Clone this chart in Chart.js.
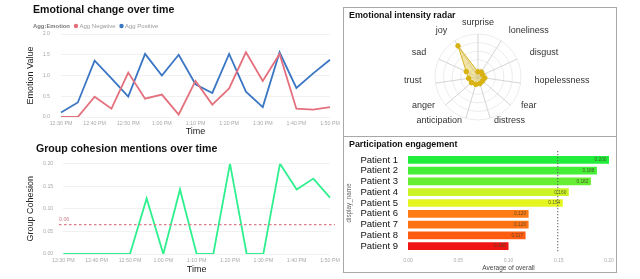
<!DOCTYPE html>
<html><head><meta charset="utf-8">
<script src="https://cdn.jsdelivr.net/npm/chart.js@4.4.0/dist/chart.umd.min.js"></script>
<style>
html,body{margin:0;padding:0;background:#fff;width:640px;height:279px;overflow:hidden;font-family:"Liberation Sans",Arial,sans-serif;}
canvas{position:absolute;}
.t{position:absolute;font-weight:bold;color:#111;white-space:nowrap;line-height:1;}
.panel{position:absolute;border:1px solid #a8a8a8;box-sizing:border-box;}
</style></head><body>
<div class="panel" style="left:343px;top:7px;width:274px;height:130px"></div>
<div class="panel" style="left:343px;top:136px;width:274px;height:137px"></div>
<canvas id="emo" width="340" height="140" style="left:0;top:0"></canvas>
<canvas id="coh" width="340" height="144" style="left:0;top:135px"></canvas>
<canvas id="rad" width="272" height="128" style="left:344px;top:8px"></canvas>
<canvas id="bar" width="280" height="144" style="left:340px;top:135px"></canvas>
<div class="t" style="left:33px;top:4.3px;font-size:10.6px">Emotional change over time</div>
<div class="t" style="left:36px;top:142.5px;font-size:10.6px">Group cohesion mentions over time</div>
<div class="t" style="left:349px;top:10.6px;font-size:8.9px">Emotional intensity radar</div>
<div class="t" style="left:349px;top:139.6px;font-size:8.9px">Participation engagement</div>
<script>
const FONT = '"Liberation Sans", Arial, sans-serif';
Chart.defaults.font.family = FONT;

// ---- data ----
const times = ['12:30 PM','12:35 PM','12:40 PM','12:45 PM','12:50 PM','12:55 PM','1:00 PM','1:05 PM','1:10 PM','1:15 PM','1:20 PM','1:25 PM','1:30 PM','1:35 PM','1:40 PM','1:45 PM','1:50 PM'];
const aggNegative = [0, 0, 0.49, 0.2, 1.07, 0.44, 0.54, 0.06, 0.87, 0.3, 0.69, 1.56, 0.87, 1.52, 0.2, 0.18, 0.24];
const aggPositive = [0.11, 0.35, 1.36, 0.93, 0.49, 1.52, 1.0, 1.5, 0.79, 0.58, 1.52, 0.61, 0.24, 1.56, 0.7, 1.05, 1.38];
const legendTitle = 'Agg:Emotion';
const cohesion = [0, 0, 0, 0, 0, 0.123, 0, 0.143, 0, 0, 0.2, 0, 0, 0.2, 0.143, 0.167, 0.125];
const cohesionThreshold = 0.065;
const cohesionThresholdLabel = '0.06';
const emotions = ['surprise','loneliness','disgust','hopelessness','fear','distress','anticipation','anger','trust','sad','joy'];
const intensity = [0.12, 0.14, 0.12, 0.16, 0.14, 0.16, 0.18, 0.2, 0.22, 0.3, 0.86];
const patients = ['Patient 1','Patient 2','Patient 3','Patient 4','Patient 5','Patient 6','Patient 7','Patient 8','Patient 9'];
const overall = [0.200, 0.188, 0.182, 0.160, 0.154, 0.120, 0.120, 0.117, 0.100];
const barColors = ['#20ee3a','#44ef36','#66ee33','#ccf424','#e4f520','#ff7b15','#ff7214','#ff5c12','#ee1512'];

function noPad(s){ s.paddingLeft = 0; s.paddingRight = 0; s.paddingTop = 0; s.paddingBottom = 0; }

// ---- emotional change ----
const emoLegend = {
  id: 'emoLegend',
  afterDraw(chart) {
    const ctx = chart.ctx; ctx.save();
    ctx.textBaseline = 'middle';
    ctx.font = 'bold 5.9px ' + FONT;
    ctx.fillStyle = '#777';
    ctx.fillText(legendTitle, 33, 26);
    let x = 33 + ctx.measureText(legendTitle).width + 4;
    ctx.font = '6px ' + FONT;
    chart.data.datasets.forEach(ds => {
      ctx.fillStyle = ds.borderColor;
      ctx.beginPath(); ctx.arc(x + 2, 26, 2.2, 0, Math.PI * 2); ctx.fill();
      x += 5.5;
      ctx.fillStyle = '#9a9a9a';
      ctx.fillText(ds.label, x, 26);
      x += ctx.measureText(ds.label).width + 4;
    });
    ctx.restore();
  }
};

const smallTick = {size: 5.3};
new Chart(document.getElementById('emo'), {
  type: 'line',
  data: {labels: times, datasets: [
    {label: 'Agg Negative', data: aggNegative, borderColor: '#e5707d', borderWidth: 1.8, pointRadius: 0, tension: 0},
    {label: 'Agg Positive', data: aggPositive, borderColor: '#3a76c4', borderWidth: 1.8, pointRadius: 0, tension: 0}
  ]},
  options: {
    responsive: false, animation: false, devicePixelRatio: 1,
    layout: {padding: {left: 0, right: 10, top: 34, bottom: 0}},
    plugins: {legend: {display: false}, tooltip: {enabled: false}},
    scales: {
      x: {type: 'category', offset: false, grid: {display: false, drawTicks: false}, border: {display: false},
        ticks: {autoSkip: false, maxRotation: 0, padding: 3, font: smallTick, color: '#aaa',
          callback: (v, i) => i % 2 === 0 ? times[i] : ''},
        title: {display: true, text: 'Time', font: {size: 9}, color: '#222', padding: {top: 0, bottom: 2.9}},
        afterFit: s => { s.height = 23; noPad(s); }},
      y: {min: 0, max: 2, grid: {color: '#f1f1f1', drawTicks: false}, border: {display: false},
        ticks: {stepSize: 0.5, padding: 11, font: smallTick, color: '#aaa', callback: v => Number(v).toFixed(1)},
        title: {display: true, text: 'Emotion Value', font: {size: 9}, color: '#222', padding: {top: 25.6, bottom: 0}},
        afterFit: s => { s.width = 61; noPad(s); }}
    }
  },
  plugins: [emoLegend]
});

// ---- group cohesion ----
const thresholdPlugin = {
  id: 'thresholdLine',
  afterDatasetsDraw(chart) {
    const ctx = chart.ctx, y = chart.scales.y.getPixelForValue(cohesionThreshold);
    ctx.save();
    ctx.strokeStyle = '#e07a8a'; ctx.lineWidth = 1.1; ctx.setLineDash([2.5, 2.5]);
    ctx.beginPath(); ctx.moveTo(59, y); ctx.lineTo(335, y); ctx.stroke();
    ctx.fillStyle = '#c97c88'; ctx.font = '5.3px ' + FONT; ctx.textBaseline = 'bottom';
    ctx.fillText(cohesionThresholdLabel, 59, y - 2.5);
    ctx.restore();
  }
};
new Chart(document.getElementById('coh'), {
  type: 'line',
  data: {labels: times, datasets: [
    {label: 'Group Cohesion', data: cohesion, borderColor: '#2ef08e', borderWidth: 1.8, pointRadius: 0, tension: 0}
  ]},
  options: {
    responsive: false, animation: false, devicePixelRatio: 1,
    layout: {padding: {left: 0, right: 10, top: 28.7, bottom: 0}},
    plugins: {legend: {display: false}, tooltip: {enabled: false}},
    scales: {
      x: {type: 'category', offset: false, grid: {display: false, drawTicks: false}, border: {display: false},
        ticks: {autoSkip: false, maxRotation: 0, padding: 3, font: smallTick, color: '#aaa',
          callback: (v, i) => i % 2 === 0 ? times[i] : ''},
        title: {display: true, text: 'Time', font: {size: 9}, color: '#222', padding: {top: 0, bottom: 3.6}},
        afterFit: s => { s.height = 25; noPad(s); }},
      y: {min: 0, max: 0.2, grid: {color: '#f1f1f1', drawTicks: false}, border: {display: false},
        ticks: {stepSize: 0.05, padding: 10, font: smallTick, color: '#aaa', callback: v => Number(v).toFixed(2)},
        title: {display: true, text: 'Group Cohesion', font: {size: 9}, color: '#222', padding: {top: 25.3, bottom: 0}},
        afterFit: s => { s.width = 63.3; noPad(s); }}
    }
  },
  plugins: [thresholdPlugin]
});

// ---- radar ----
const radarLabels = {
  id: 'radarLabels',
  afterDraw(chart) {
    const s = chart.scales.r, ctx = chart.ctx;
    ctx.save();
    ctx.font = '9px ' + FONT; ctx.fillStyle = '#333'; ctx.textBaseline = 'middle';
    chart.data.labels.forEach((lab, i) => {
      const px = s.getPointPosition(i, 57), py = s.getPointPosition(i, 50);
      const sn = Math.sin(s.getIndexAngle(i));
      ctx.textAlign = sn > 0.05 ? 'left' : (sn < -0.05 ? 'right' : 'center');
      ctx.fillText(lab, px.x, py.y - 4);
    });
    ctx.restore();
  }
};
new Chart(document.getElementById('rad'), {
  type: 'radar',
  data: {labels: emotions, datasets: [
    {label: 'intensity', data: intensity, borderColor: 'rgba(212,176,20,0.9)', backgroundColor: 'rgba(226,196,60,0.45)',
     borderWidth: 1, pointRadius: 2.3, pointBackgroundColor: '#d8b210', pointBorderColor: '#d8b210'}
  ]},
  options: {
    responsive: false, animation: false, devicePixelRatio: 1,
    layout: {padding: {left: 91, right: 95, top: 26.5, bottom: 15.5}},
    plugins: {legend: {display: false}, tooltip: {enabled: false}},
    scales: {
      r: {min: 0, max: 1,
        ticks: {display: false, stepSize: 0.2},
        grid: {circular: true, color: '#ececec'},
        angleLines: {color: '#d4d4d4'},
        pointLabels: {display: false}}
    }
  },
  plugins: [radarLabels]
});

// ---- participation ----
const meanOverall = overall.reduce((a, b) => a + b, 0) / overall.length;
const barExtras = {
  id: 'barExtras',
  afterDatasetsDraw(chart) {
    const ctx = chart.ctx, xs = chart.scales.x, area = chart.chartArea;
    const x = xs.getPixelForValue(meanOverall);
    ctx.save();
    ctx.strokeStyle = '#666'; ctx.lineWidth = 1.1; ctx.setLineDash([1.1, 1.9]);
    ctx.beginPath(); ctx.moveTo(x, area.top - 3.5); ctx.lineTo(x, area.bottom + 1.5); ctx.stroke();
    ctx.setLineDash([]);
    ctx.font = '4.8px ' + FONT; ctx.fillStyle = 'rgba(70,70,40,0.85)';
    ctx.textAlign = 'right'; ctx.textBaseline = 'middle';
    chart.getDatasetMeta(0).data.forEach((bar, i) => {
      ctx.fillText(overall[i].toFixed(3), bar.x - 2.5, bar.y);
    });
    ctx.restore();
  }
};
new Chart(document.getElementById('bar'), {
  type: 'bar',
  data: {labels: patients, datasets: [
    {label: 'Average of overall', data: overall, backgroundColor: barColors, borderWidth: 0,
     categoryPercentage: 1, barPercentage: 0.72}
  ]},
  options: {
    indexAxis: 'y',
    responsive: false, animation: false, devicePixelRatio: 1,
    layout: {padding: {left: 0, right: 11, top: 19.6, bottom: 7}},
    plugins: {legend: {display: false}, tooltip: {enabled: false}},
    scales: {
      x: {min: 0, max: 0.2, grid: {display: false, drawTicks: false}, border: {display: false},
        ticks: {stepSize: 0.05, padding: 6, font: {size: 5}, color: '#aaa', callback: v => Number(v).toFixed(2)},
        title: {display: true, text: 'Average of overall', font: {size: 6.5}, color: '#444', padding: {top: 0, bottom: 0}},
        afterFit: s => { s.height = 20.6; noPad(s); }},
      y: {grid: {display: false, drawTicks: false}, border: {display: false},
        ticks: {autoSkip: false, padding: 10, font: {size: 9.5}, color: '#111'},
        title: {display: true, text: 'display_name', font: {size: 6.3}, color: '#666', padding: {top: 5.5, bottom: 0}},
        afterFit: s => { s.width = 68; noPad(s); }}
    }
  },
  plugins: [barExtras]
});
</script>
</body></html>
